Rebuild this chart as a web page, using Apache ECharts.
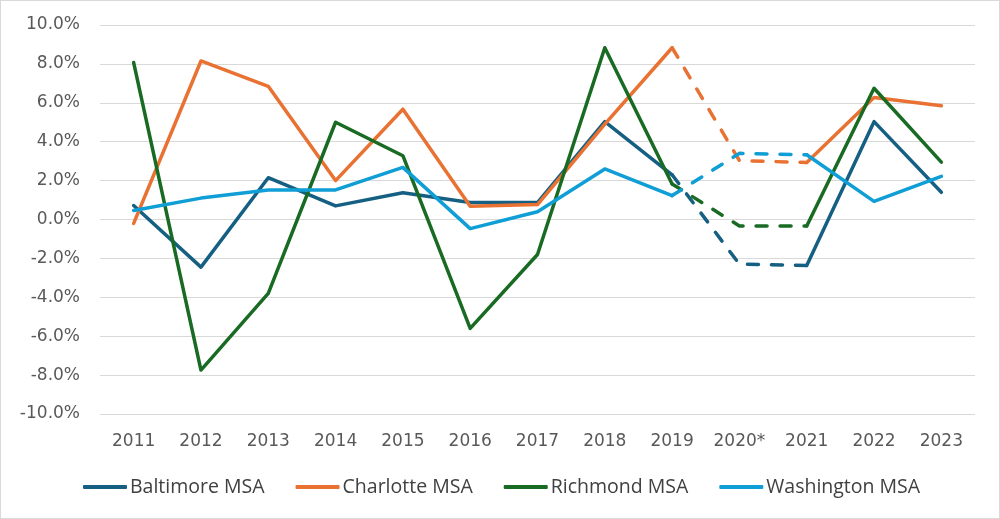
<!DOCTYPE html>
<html lang="en">
<head>
    <meta charset="UTF-8">
    <title>MSA growth</title>
    <style>
        body{ margin:0; background:#fff; }
        .container{
            width: 1000px;
            height: 519px;
            box-sizing: border-box;
            border: 1px solid #d9d9d9;
        }
    </style>
    <script src="https://cdn.jsdelivr.net/npm/echarts@6/dist/echarts.min.js"></script>
</head>
<body>
    <div class="container"></div>
    <script>
        // years on the x axis, 2020 is estimated (dashed)
        var years = ['2011','2012','2013','2014','2015','2016','2017','2018','2019','2020*','2021','2022','2023'];
        var yTicks = [-10, -8, -6, -4, -2, 0, 2, 4, 6, 8, 10];

        // values in %
        var baltimore  = [0.72, -2.45, 2.15, 0.7, 1.38, 0.87, 0.87, 5.03, 2.3, -2.3, -2.36, 5.03, 1.4];
        var charlotte  = [-0.2, 8.15, 6.85, 2.0, 5.67, 0.68, 0.77, 4.9, 8.83, 3.03, 2.93, 6.27, 5.85];
        var richmond   = [8.07, -7.74, -3.8, 5.0, 3.28, -5.6, -1.8, 8.83, 1.83, -0.33, -0.33, 6.75, 2.95];
        var washington = [0.46, 1.1, 1.52, 1.52, 2.68, -0.47, 0.4, 2.6, 1.23, 3.4, 3.33, 0.93, 2.22];

        var names  = ['Baltimore MSA', 'Charlotte MSA', 'Richmond MSA', 'Washington MSA'];
        var colors = ['#156082', '#E97132', '#196B24', '#0F9ED5'];
        var all = [baltimore, charlotte, richmond, washington];

        var dashIdx = years.indexOf('2020*');

        // solid part: everything except the 2020 point
        function solidPart(arr){
            return arr.map(function(v, i){ return i === dashIdx ? null : v; });
        }
        // dashed part: 2019 -> 2020 -> 2021
        function dashPart(arr){
            return arr.map(function(v, i){ return Math.abs(i - dashIdx) <= 1 ? v : null; });
        }

        var series = [];
        all.forEach(function(arr, k){
            series.push({
                name: names[k],
                type: 'line',
                data: solidPart(arr),
                showSymbol: false,
                z: 3,
                lineStyle: { width: 3.5, color: colors[k], cap: 'round', join: 'round' },
                itemStyle: { color: colors[k] }
            });
        });
        all.forEach(function(arr, k){
            series.push({
                name: names[k],
                type: 'line',
                data: dashPart(arr),
                showSymbol: false,
                z: 2,
                lineStyle: { width: 3.5, color: colors[k], type: [11, 13], cap: 'round', join: 'round' },
                itemStyle: { color: colors[k] }
            });
        });

        var myChart = echarts.init(document.getElementsByClassName('container')[0]);
        myChart.setOption({
            animation: false,
            textStyle: { fontFamily: 'DejaVu Sans' },
            grid: { left: 99, right: 24, top: 24, bottom: 104 },
            legend: {
                data: names,
                bottom: 16,
                left: 77,
                itemWidth: 44,
                itemHeight: 4,
                itemGap: 31,
                icon: 'roundRect',
                textStyle: { fontSize: 19.5, color: '#404040', fontFamily: 'Open Sans', padding: [0, 0, 0, -2] }
            },
            xAxis: {
                type: 'category',
                data: years,
                boundaryGap: true,
                axisLine: { show: false },
                axisTick: { show: false },
                axisLabel: { fontSize: 17, color: '#595959', margin: 19, fontFamily: 'DejaVu Sans' }
            },
            yAxis: {
                type: 'value',
                min: yTicks[0],
                max: yTicks[yTicks.length - 1],
                interval: 2,
                axisLine: { show: false },
                axisTick: { show: false },
                splitLine: { lineStyle: { color: '#d9d9d9', width: 1.2 } },
                axisLabel: {
                    fontSize: 17,
                    color: '#595959',
                    margin: 20,
                    fontFamily: 'DejaVu Sans',
                    formatter: function(v){ return v.toFixed(1) + '%'; }
                }
            },
            series: series
        });
    </script>
</body>
</html>
